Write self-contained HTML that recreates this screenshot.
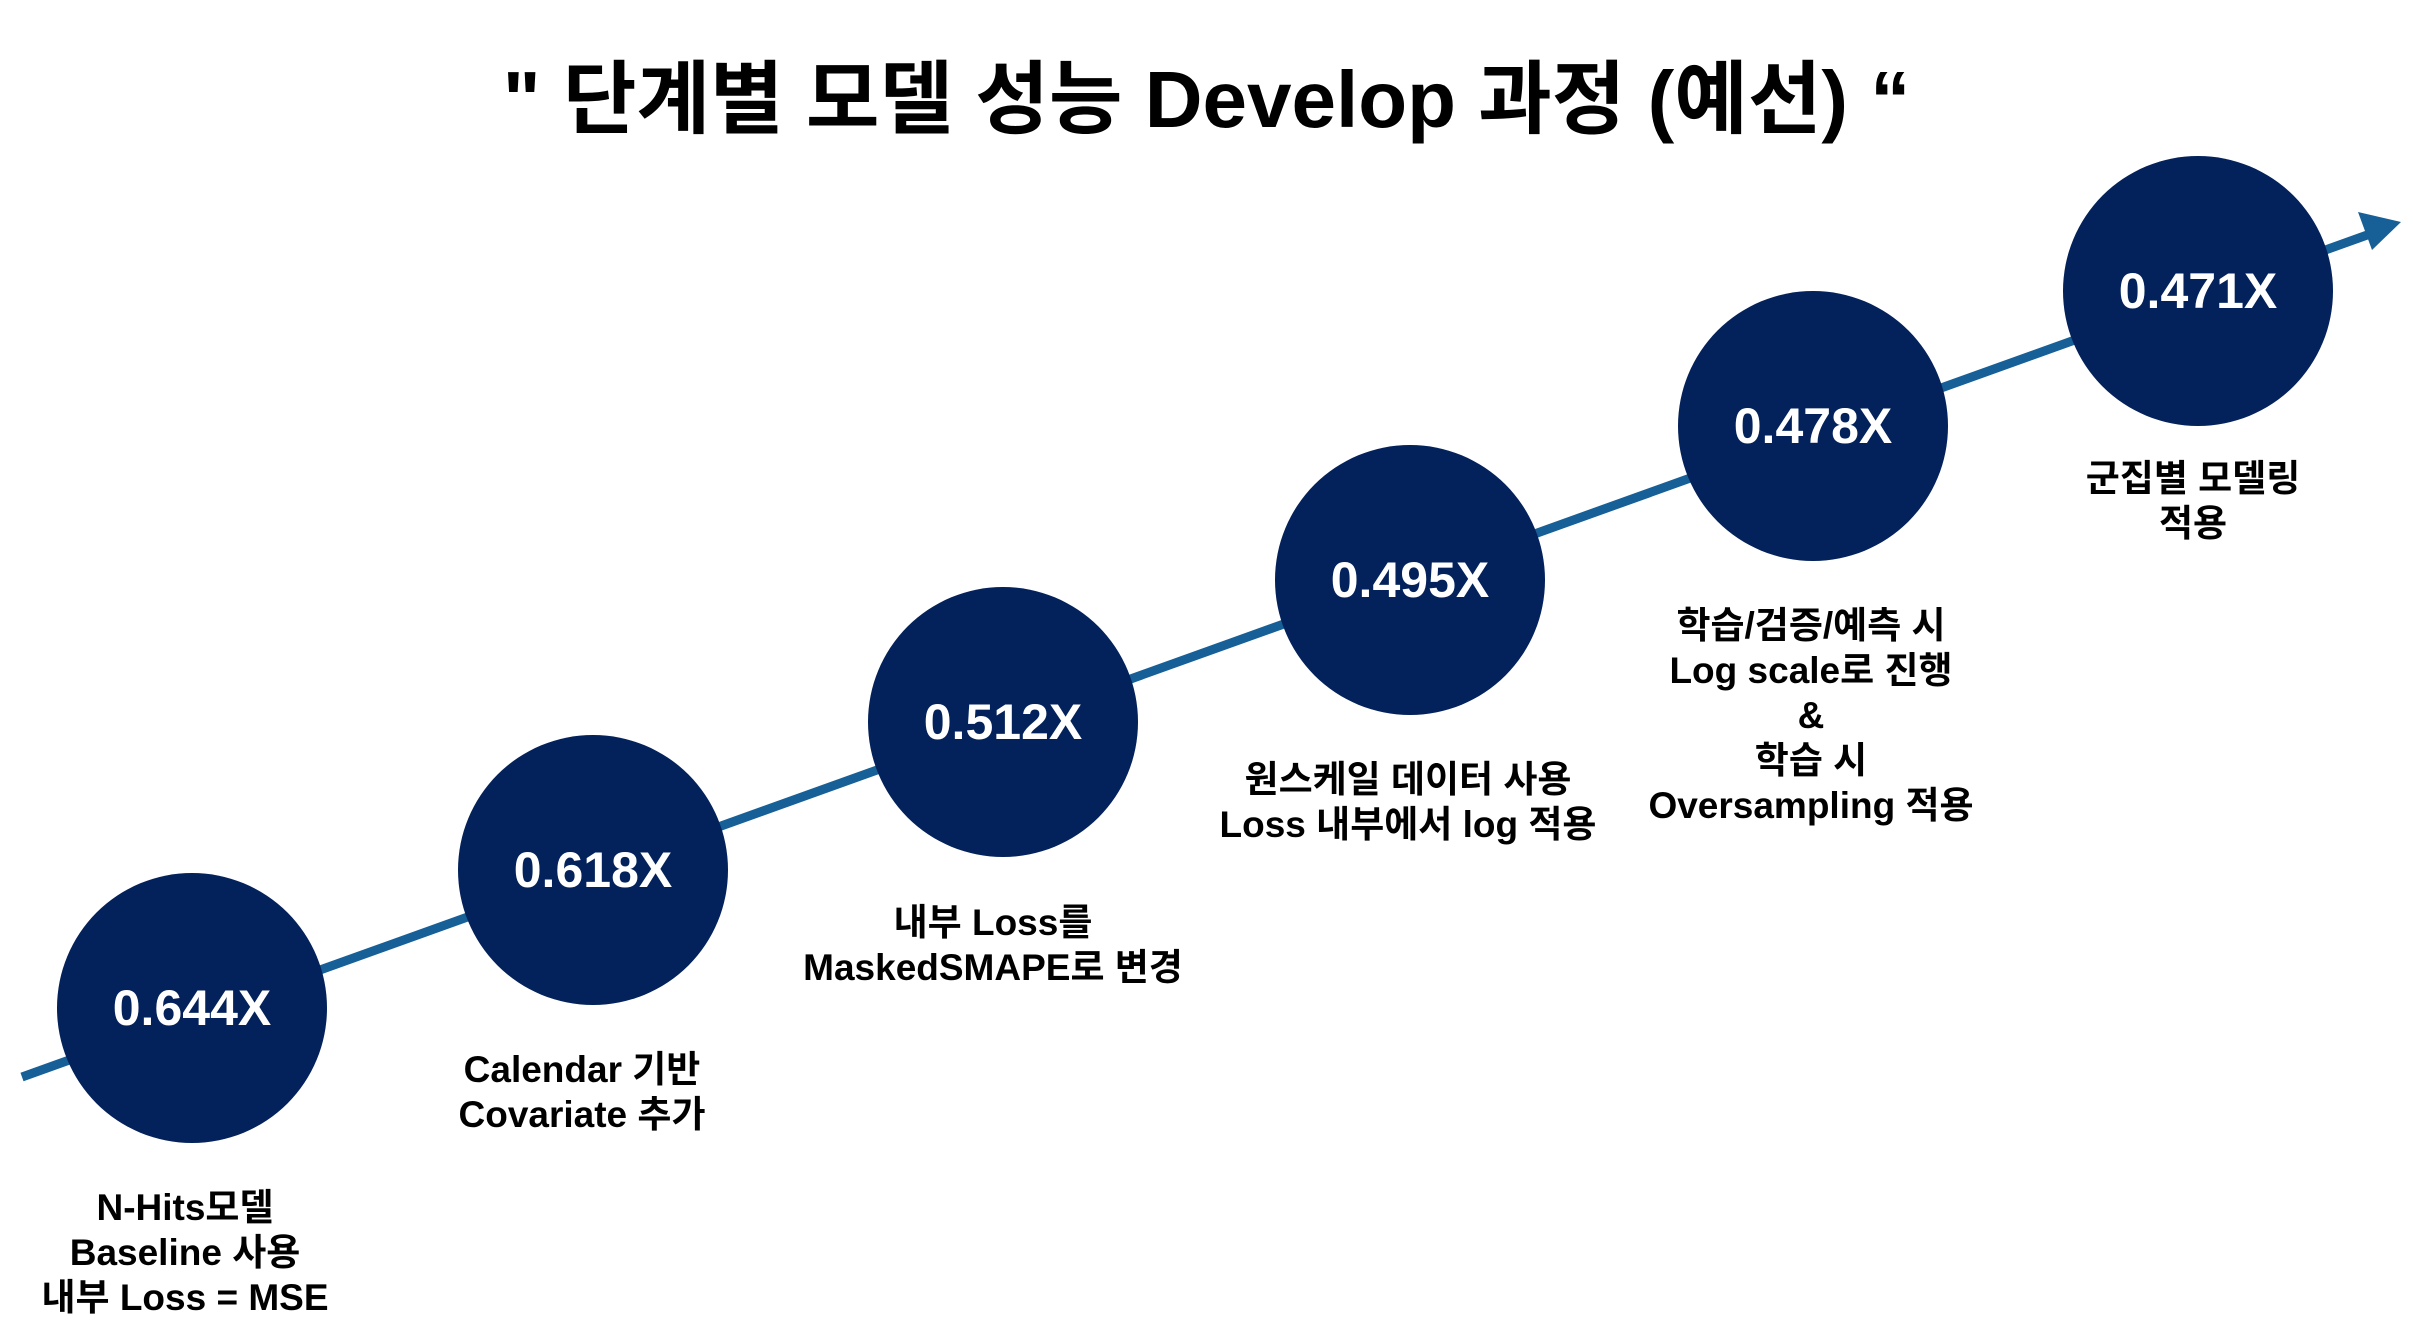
<!DOCTYPE html>
<html><head><meta charset="utf-8"><style>
body{margin:0;width:2413px;height:1339px;background:#fff;position:relative;overflow:hidden;font-family:"Liberation Sans","Noto Sans CJK KR",sans-serif;font-weight:bold;color:#000}
.t{position:absolute;left:0;width:2413px;text-align:center;top:50px;font-size:80px;line-height:100px}
.c{position:absolute;width:270px;height:270px;border-radius:50%;background:#03215a;color:#fff;font-size:50px;display:flex;align-items:center;justify-content:center}
.l{position:absolute;width:600px;text-align:center;font-size:37px;line-height:45px}
</style></head><body>
<div class="t">" 단계별 모델 성능 Develop 과정 (예선) “</div>
<svg width="2413" height="1339" style="position:absolute;left:0;top:0">
<line x1="22" y1="1077" x2="2370" y2="234" stroke="#165f97" stroke-width="9"/>
<polygon points="2401,222 2358,212 2372,250" fill="#165f97"/>
</svg>
<div class="c" style="left:57px;top:873px">0.644X</div>
<div class="c" style="left:458px;top:735px">0.618X</div>
<div class="c" style="left:868px;top:587px">0.512X</div>
<div class="c" style="left:1275px;top:445px">0.495X</div>
<div class="c" style="left:1678px;top:291px">0.478X</div>
<div class="c" style="left:2063px;top:156px">0.471X</div>
<div class="l" style="left:-115px;top:1185px">N-Hits모델<br>Baseline 사용<br>내부 Loss = MSE</div>
<div class="l" style="left:282px;top:1047px">Calendar 기반<br>Covariate 추가</div>
<div class="l" style="left:693px;top:900px">내부 Loss를<br>MaskedSMAPE로 변경</div>
<div class="l" style="left:1108px;top:757px">원스케일 데이터 사용<br>Loss 내부에서 log 적용</div>
<div class="l" style="left:1511px;top:603px">학습/검증/예측 시<br>Log scale로 진행<br>&amp;<br>학습 시<br>Oversampling 적용</div>
<div class="l" style="left:1893px;top:456px">군집별 모델링<br>적용</div>
</body></html>
